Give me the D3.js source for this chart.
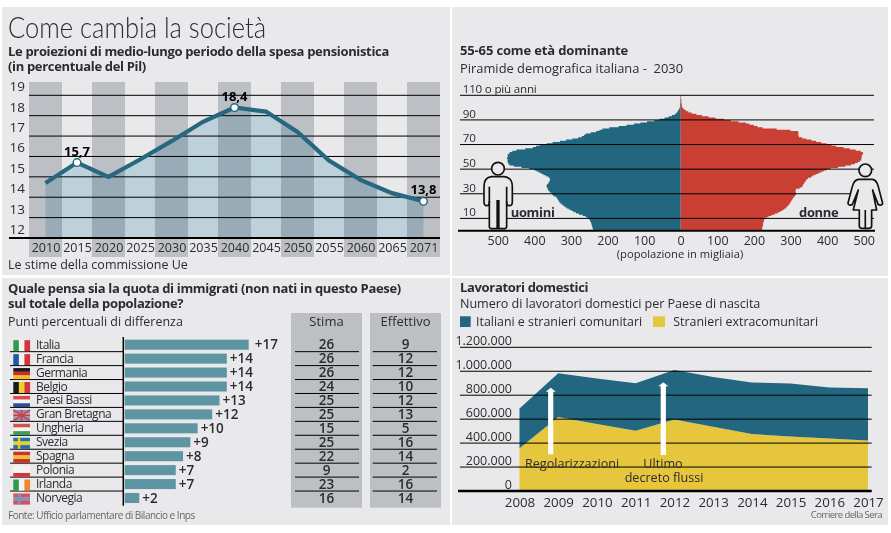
<!DOCTYPE html>
<html>
<head>
<meta charset="utf-8">
<script src="https://cdn.jsdelivr.net/npm/d3@7"></script>
<style>
  body { margin: 0; background: #fff; }
  text { font-family: "Open Sans", sans-serif; fill: #2c2c30; }
  .tick text { font-family: "Open Sans", sans-serif; fill: #2c2c30; }
  .b { font-weight: 700; letter-spacing: -0.33px; }
</style>
</head>
<body>
<script>
// chart 1: pension spending
var pensionYears = ['2010','2015','2020','2025','2030','2035','2040','2045','2050','2055','2060','2065','2071'];
var pensionValues = [14.7, 15.7, 15.0, 15.85, 16.75, 17.7, 18.4, 18.2, 17.2, 15.8, 14.85, 14.2, 13.8];
var pensionTicks = [12, 13, 14, 15, 16, 17, 18, 19];
var pensionLabelled = ['2015', '2040', '2071'];

// chart 2: population pyramid, one value per age 0..110 (thousands)
var men = [238,239,240,241,242,243,244,245,247,248,250,255,260,268,278,286,293,299,306,312,
  317,321,326,329,332,334,336,338,342,348,351,354,358,361,363,364,366,367,365,362,
  360,358,357,358,361,368,375,381,388,394,400,414,435,456,468,471,472,474,472,475,
  474,472,474,470,467,460,449,425,404,395,385,366,350,330,313,296,280,270,264,260,
  246,231,222,214,195,170,148,128,110,92,72,58,44,33,24,16,12,9,7,5,
  3,2,2,2,2,1,1,1,1,1,1];
var women = [221,222,223,223,224,225,225,226,227,228,229,233,240,248,257,265,272,278,283,288,
  291,294,297,299,301,303,305,307,310,313,315,315,314,314,315,325,331,333,335,337,
  339,342,344,348,356,361,368,376,384,391,398,410,430,450,466,476,484,490,494,493,
  495,494,496,498,498,492,478,462,445,425,412,398,384,370,357,343,332,323,322,321,
  322,321,300,262,224,210,200,188,178,158,137,118,95,76,58,43,30,21,15,10,
  6,4,3,3,2,2,2,2,1,1,1];
var ageTicks = [110, 90, 70, 50, 30, 10];
var popTicks = [-500, -400, -300, -200, -100, 0, 100, 200, 300, 400, 500];

// chart 3: immigrants perception
var countries = ['Italia','Francia','Germania','Belgio','Paesi Bassi','Gran Bretagna','Ungheria','Svezia','Spagna','Polonia','Irlanda','Norvegia'];
var gaps = [17, 14, 14, 14, 13, 12, 10, 9, 8, 7, 7, 2];
var stima = [26, 26, 26, 24, 25, 25, 15, 25, 22, 9, 23, 16];
var effettivo = [9, 12, 12, 10, 12, 13, 5, 16, 14, 2, 16, 14];

// chart 4: domestic workers
var workerYears = ['2008','2009','2010','2011','2012','2013','2014','2015','2016','2017'];
var extraUe = [356000, 619000, 560000, 503000, 597000, 536000, 475000, 456000, 439000, 422000];
var comunitari = [333000, 364000, 379000, 397000, 414000, 417000, 431000, 441000, 425000, 436000];
var workerTicks = [0, 200000, 400000, 600000, 800000, 1000000, 1200000];

var bg = '#e9e9eb', band = '#bcbfc4', teal = '#22677f', black = '#000';

var svg = d3.select('body').append('svg')
  .attr('width', 891)
  .attr('height', 533)
  .style('display', 'block');

// panels
[[2, 7, 448, 268], [452, 7, 436, 269], [2, 278, 448, 247], [452, 278, 436, 247]].forEach(function(p) {
  svg.append('rect').attr('x', p[0]).attr('y', p[1]).attr('width', p[2]).attr('height', p[3]).attr('fill', bg);
});

function label(str, x, y, size, cls, anchor) {
  return svg.append('text')
    .attr('x', x).attr('y', y)
    .attr('class', cls || null)
    .attr('text-anchor', anchor || 'start')
    .style('font-size', size + 'px')
    .text(str);
}

function gridLines(g, data, y, x0, x1) {
  g.selectAll('line.grid').data(data).enter().append('line')
    .attr('class', 'grid')
    .attr('x1', x0).attr('x2', x1)
    .attr('y1', function(d) { return y(d); })
    .attr('y2', function(d) { return y(d); })
    .attr('stroke', black)
    .attr('stroke-width', 1);
}

// ---------- chart 1 ----------
label('Come cambia la società', 8, 38, 30)
  .attr('textLength', 258).attr('lengthAdjust', 'spacingAndGlyphs')
  .style('font-family', 'Lato, sans-serif').style('font-weight', 300);
label('Le proiezioni di medio-lungo periodo della spesa pensionistica', 8, 55.5, 13, 'b');
label('(in percentuale del Pil)', 8, 70.7, 13, 'b');

var x1 = d3.scalePoint().domain(pensionYears).range([45.5, 423.5]);
var y1 = d3.scaleLinear().domain([12, 19]).range([238, 95.3]);
var g1 = svg.append('g');

g1.selectAll('rect.band').data(pensionYears.filter(function(d, i) { return i % 2 == 0; })).enter().append('rect')
  .attr('class', 'band')
  .attr('x', function(d) { return x1(d) - 16.5; })
  .attr('y', 82)
  .attr('width', 33)
  .attr('height', 175)
  .attr('fill', band);

var pensionArea = d3.area()
  .x(function(d, i) { return x1(pensionYears[i]); })
  .y0(y1(12))
  .y1(function(d) { return y1(d); });
g1.append('path').attr('d', pensionArea(pensionValues))
  .attr('fill', '#cfe5ee')
  .style('mix-blend-mode', 'multiply');

gridLines(g1, pensionTicks.slice(1), y1, 29, 440);
g1.append('line').attr('x1', 9).attr('x2', 440).attr('y1', y1(12)).attr('y2', y1(12)).attr('stroke', black).attr('stroke-width', 2);

var pensionLine = d3.line()
  .x(function(d, i) { return x1(pensionYears[i]); })
  .y(function(d) { return y1(d); });
g1.append('path').attr('d', pensionLine(pensionValues))
  .attr('fill', 'none').attr('stroke', '#27677f').attr('stroke-width', 4.2);

g1.selectAll('circle').data(pensionLabelled).enter().append('circle')
  .attr('cx', function(d) { return x1(d); })
  .attr('cy', function(d) { return y1(pensionValues[pensionYears.indexOf(d)]); })
  .attr('r', 3.8)
  .attr('fill', '#fff').attr('stroke', '#27677f').attr('stroke-width', 1.4);

g1.selectAll('text.val').data(pensionLabelled).enter().append('text')
  .attr('class', 'val')
  .attr('x', function(d) { return x1(d); })
  .attr('y', function(d) { return y1(pensionValues[pensionYears.indexOf(d)]) - 7; })
  .attr('text-anchor', 'middle')
  .style('font-size', '13px')
  .style('font-weight', 700)
  .style('fill', '#000')
  .text(function(d) { return String(pensionValues[pensionYears.indexOf(d)]).replace('.', ','); });

var y1Axis = svg.append('g').attr('transform', 'translate(9.5,0)')
  .call(d3.axisRight(y1).tickValues(pensionTicks).tickSize(0).tickPadding(0).tickFormat(d3.format('d')));
y1Axis.select('.domain').remove();
y1Axis.selectAll('text').attr('dy', -4.5).style('font-size', '13.5px');

var x1Axis = svg.append('g').attr('transform', 'translate(0,252)')
  .call(d3.axisBottom(x1).tickSize(0).tickPadding(0));
x1Axis.select('.domain').remove();
x1Axis.selectAll('text').attr('y', 0).attr('dy', 0).style('font-size', '12.5px');

label('Le stime della commissione Ue', 8, 269, 12.5);

// ---------- chart 2 ----------
label('55-65 come età dominante', 460, 55.3, 13, 'b').style('letter-spacing', '-0.15px');
label('Piramide demografica italiana -  2030', 460, 73.3, 12.9).style('white-space', 'pre');

var x2 = d3.scaleLinear().domain([-500, 500]).range([497.7, 863.7]);
var y2 = d3.scaleLinear().domain([0, 110]).range([230.7, 95.3]);
var g2 = svg.append('g');

var pyramid = d3.area()
  .curve(d3.curveStepAfter)
  .y(function(d, i) { return y2(i); })
  .x0(x2(0));
g2.append('path').attr('d', pyramid.x1(function(d) { return x2(-d); })(men)).attr('fill', teal);
g2.append('path').attr('d', pyramid.x1(function(d) { return x2(d); })(women)).attr('fill', '#c93f33');

gridLines(g2, ageTicks, y2, 460, 874);
g2.append('line').attr('x1', 458).attr('x2', 875).attr('y1', y2(0)).attr('y2', y2(0)).attr('stroke', black).attr('stroke-width', 2);

var y2Axis = svg.append('g').attr('transform', 'translate(462.7,0)')
  .call(d3.axisRight(y2).tickValues(ageTicks).tickSize(0).tickPadding(0)
    .tickFormat(function(d) { return d == 110 ? '110 o più anni' : d; }));
y2Axis.select('.domain').remove();
y2Axis.selectAll('text').attr('dy', -2.7).style('font-size', '11.6px').style('letter-spacing', '-0.2px');

var x2Axis = svg.append('g').attr('transform', 'translate(0,245)')
  .call(d3.axisBottom(x2).tickValues(popTicks).tickSize(0).tickPadding(0)
    .tickFormat(function(d) { return Math.abs(d); }));
x2Axis.select('.domain').remove();
x2Axis.selectAll('text').attr('y', 0).attr('dy', 0).style('font-size', '12.5px');

label('(popolazione in migliaia)', 680, 258, 11.2, null, 'middle');
label('uomini', 510.7, 216.7, 13, 'b');
label('donne', 799, 216.7, 13, 'b');

// icons, drawn in the 3x coordinates they were measured in
var icons = svg.append('g').attr('transform', 'translate(450,30) scale(0.3333)')
  .attr('stroke', '#111').attr('stroke-width', 5).attr('fill', bg).attr('stroke-linejoin', 'round');
icons.append('circle').attr('cx', 144).attr('cy', 416).attr('r', 19);
icons.append('path').attr('d', 'M125,440H163Q187,442 187,470V515Q187,527 178,527Q170,527 170,515V590Q170,596 160,596H128Q118,596 118,590V515Q118,527 110,527Q102,527 102,515V470Q102,442 125,440Z');
icons.append('path').attr('fill', 'none').attr('d', 'M118,470V520M170,470V520');
icons.append('path').attr('fill', 'none').attr('stroke-width', 10).attr('d', 'M144,510V596');
icons.append('circle').attr('cx', 1246).attr('cy', 421).attr('r', 19);
icons.append('path').attr('d', 'M1225,448H1268Q1280,450 1285,470L1298,520Q1296,528 1285,524L1268,480L1280,540H1265V588Q1265,595 1255,595H1238Q1228,595 1228,588V540H1210L1225,480L1207,524Q1196,528 1194,520L1207,470Q1212,450 1225,448Z');
icons.append('path').attr('fill', 'none').attr('d', 'M1246,540V595');

// ---------- chart 3 ----------
label('Quale pensa sia la quota di immigrati (non nati in questo Paese)', 8, 293, 13, 'b');
label('sul totale della popolazione?', 8, 308.3, 13, 'b');
label('Punti percentuali di differenza', 8, 325.7, 12.45);

var x3 = d3.scaleLinear().domain([0, 17]).range([124.7, 248.7]);
var y3 = d3.scaleBand().domain(countries).range([337.73, 504.97]).paddingInner(0.28).paddingOuter(0.14);
var rowEdge = function(d, i) { return y3(d) + y3.bandwidth() / 2 + y3.step() / 2; };
var g3 = svg.append('g');

[[291, 'Stima', stima, 295, 359], [370, 'Effettivo', effettivo, 372.7, 437]].forEach(function(c) {
  g3.append('rect').attr('x', c[0]).attr('y', 313).attr('width', 71).attr('height', 194.7).attr('fill', band);
  label(c[1], c[0] + 35.5, 325.7, 13, null, 'middle');
  var col = svg.append('g');
  col.selectAll('line').data(countries.slice(0, -1)).enter().append('line')
    .attr('x1', c[3]).attr('x2', c[4])
    .attr('y1', rowEdge).attr('y2', rowEdge)
    .attr('stroke', black).attr('stroke-width', 1);
  col.selectAll('text').data(c[2]).enter().append('text')
    .attr('x', c[0] + 35.5)
    .attr('y', function(d, i) { return y3(countries[i]) + y3.bandwidth() / 2 + 4.5; })
    .attr('text-anchor', 'middle')
    .style('font-size', '13.5px')
    .style('font-weight', 600)
    .text(function(d) { return d; });
});

g3.selectAll('line.row').data(countries.slice(0, -1)).enter().append('line')
  .attr('class', 'row')
  .attr('x1', 10).attr('x2', 123)
  .attr('y1', rowEdge).attr('y2', rowEdge)
  .attr('stroke', black).attr('stroke-width', 1);

g3.selectAll('rect.bar').data(gaps).enter().append('rect')
  .attr('class', 'bar')
  .attr('x', x3(0))
  .attr('y', function(d, i) { return y3(countries[i]); })
  .attr('width', function(d) { return x3(d) - x3(0); })
  .attr('height', y3.bandwidth())
  .attr('fill', '#5e95a3');

g3.append('line').attr('x1', 123.3).attr('x2', 123.3).attr('y1', 337).attr('y2', 505.7)
  .attr('stroke', black).attr('stroke-width', 1.5);

g3.selectAll('text.gap').data(gaps).enter().append('text')
  .attr('class', 'gap')
  .attr('x', function(d, i) { return x3(d) + (i == 0 ? 6 : 3); })
  .attr('y', function(d, i) { return y3(countries[i]) + y3.bandwidth() / 2 + 4.5; })
  .style('font-size', '13.5px')
  .style('font-weight', 600)
  .text(function(d) { return '+' + d; });

g3.selectAll('text.name').data(countries).enter().append('text')
  .attr('class', 'name')
  .attr('x', 36)
  .attr('y', function(d) { return y3(d) + y3.bandwidth() / 2 + 4; })
  .style('font-size', '12px')
  .style('letter-spacing', '-0.5px')
  .text(function(d) { return d; });

// flags
var flagStripes = {
  Italia: ['v', '#2f9a4a', '#f4f4f4', '#d6343a'],
  Francia: ['v', '#1f5aa8', '#f4f4f4', '#d6343a'],
  Germania: ['h', '#1a1a1a', '#d02a2a', '#f0c020'],
  Belgio: ['v', '#1a1a1a', '#f0d020', '#d6343a'],
  'Paesi Bassi': ['h', '#e0474a', '#f4f4f4', '#2a4f95'],
  'Gran Bretagna': ['h', '#8a8fb8', '#c9a6b8', '#8a8fb8'],
  Ungheria: ['h', '#d8524a', '#f4f4f4', '#3f9a55'],
  Svezia: ['h', '#1f6fb5', '#f0cc20', '#1f6fb5'],
  Spagna: ['h', '#c9342a', '#f0c030', '#c9342a'],
  Polonia: ['h', '#f4f4f4', '#f4f4f4', '#d8323a'],
  Irlanda: ['v', '#2f9a4a', '#f4f4f4', '#ee8a2a'],
  Norvegia: ['h', '#d8505a', '#8090b8', '#d8505a']
};
countries.forEach(function(name) {
  var f = flagStripes[name], top = y3(name) + y3.bandwidth() / 2 - 4.5;
  var g = svg.append('g').attr('transform', 'translate(13.3,' + top + ')');
  [1, 2, 3].forEach(function(k) {
    g.append('rect')
      .attr('x', f[0] == 'v' ? (k - 1) * 16.7 / 3 : 0)
      .attr('y', f[0] == 'h' ? (k - 1) * 11 / 3 : 0)
      .attr('width', f[0] == 'v' ? 16.7 / 3 + 0.1 : 16.7)
      .attr('height', f[0] == 'h' ? 11 / 3 + 0.1 : 11)
      .attr('fill', f[k]);
  });
  if (name == 'Svezia') {
    g.append('rect').attr('x', 4.5).attr('width', 2.5).attr('height', 11).attr('fill', '#f0cc20');
  }
  if (name == 'Norvegia') {
    g.append('rect').attr('x', 4.5).attr('width', 3).attr('height', 11).attr('fill', '#8090b8');
  }
  if (name == 'Gran Bretagna') {
    g.append('path').attr('d', 'M0,0L16.7,11M16.7,0L0,11M8.3,0V11M0,5.5H16.7')
      .attr('stroke', '#c8404a').attr('stroke-width', 1.6);
  }
});

label('Fonte: Ufficio parlamentare di Bilancio e Inps', 8, 518.7, 10).style('letter-spacing', '-0.48px').style('fill', '#666');

// ---------- chart 4 ----------
label('Lavoratori domestici', 460, 292.3, 13, 'b');
label('Numero di lavoratori domestici per Paese di nascita', 460, 307.7, 12.6).style('letter-spacing', '-0.05px');

svg.append('rect').attr('x', 460).attr('y', 316.3).attr('width', 10.7).attr('height', 10.7).attr('fill', teal);
label('Italiani e stranieri comunitari', 476, 325.7, 12.4);
svg.append('rect').attr('x', 653).attr('y', 316.3).attr('width', 12).attr('height', 10.7).attr('fill', '#e6c63c');
label('Stranieri extracomunitari', 673.3, 325.7, 12.4);

var workerTable = workerYears.map(function(y, i) {
  return { year: y, extra: extraUe[i], comun: comunitari[i] };
});
var stackGen = d3.stack().keys(['extra', 'comun']);
var x4 = d3.scalePoint().domain(workerYears).range([519.5, 868]);
var y4 = d3.scaleLinear().domain([0, 1200000]).range([491, 347.3]);
var stackArea = d3.area()
  .x(function(d) { return x4(d.data.year); })
  .y0(function(d) { return y4(d[0]); })
  .y1(function(d) { return y4(d[1]); });
var g4 = svg.append('g');

g4.selectAll('path').data(stackGen(workerTable)).enter().append('path')
  .attr('d', stackArea)
  .attr('fill', function(d, i) { return i == 0 ? '#e6c63c' : teal; });

gridLines(g4, workerTicks.slice(1), y4, 460, 871.7);
g4.append('line').attr('x1', 458).attr('x2', 871.7).attr('y1', y4(0)).attr('y2', y4(0)).attr('stroke', black).attr('stroke-width', 2.4);

var itFormat = d3.formatLocale({ decimal: ',', thousands: '.', grouping: [3], currency: ['', ''] }).format(',');
var y4Axis = svg.append('g').attr('transform', 'translate(512,0)')
  .call(d3.axisLeft(y4).tickValues(workerTicks).tickSize(0).tickPadding(0).tickFormat(itFormat));
y4Axis.select('.domain').remove();
y4Axis.selectAll('text').attr('dy', -2.5).style('font-size', '12.5px');

var x4Axis = svg.append('g').attr('transform', 'translate(0,506.7)')
  .call(d3.axisBottom(x4).tickSize(0).tickPadding(0));
x4Axis.select('.domain').remove();
x4Axis.selectAll('text').attr('y', 0).attr('dy', 0).style('font-size', '13.3px');

// arrows
[[550.7, 387.7, 454.3], [663.3, 382.3, 455]].forEach(function(a) {
  g4.append('path')
    .attr('d', 'M' + (a[0] - 2.6) + ',' + a[2] + 'V' + (a[1] + 4) + 'H' + (a[0] - 5) + 'L' + a[0] + ',' + a[1] +
      'L' + (a[0] + 5) + ',' + (a[1] + 4) + 'H' + (a[0] + 2.6) + 'V' + a[2] + 'Z')
    .attr('fill', '#fff');
});

label('Regolarizzazioni', 525, 467.7, 12.6);
label('Ultimo', 663, 467.7, 12.6, null, 'middle');
label('decreto flussi', 664, 482.3, 12.6, null, 'middle');
label('Corriere della Sera', 882, 518.3, 9.5, null, 'end').style('letter-spacing', '-0.58px').style('fill', '#666');
</script>
</body>
</html>
